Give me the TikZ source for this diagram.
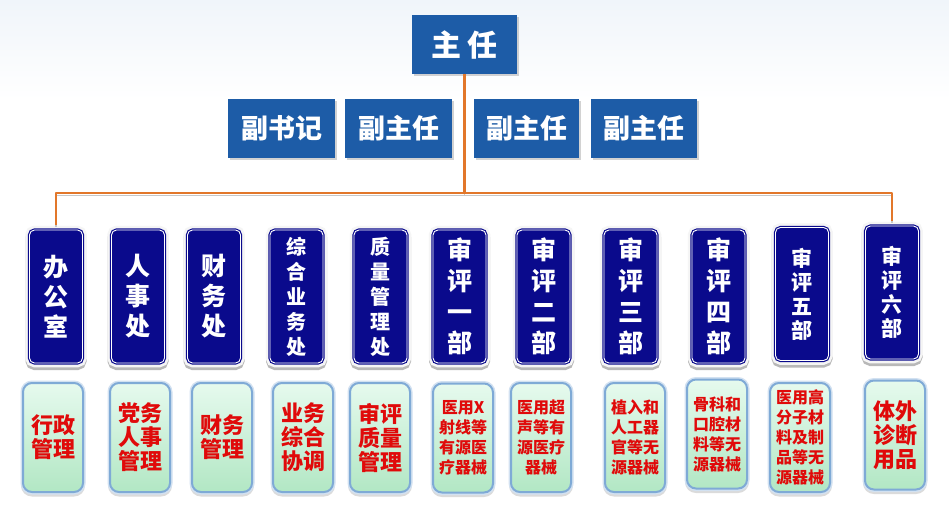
\documentclass[tikz,border=0pt]{standalone}
\usepackage{fontspec}
\newfontfamily\cjk{Noto Sans CJK SC}
\usetikzlibrary{shadows}
\definecolor{topblue}{HTML}{1D5CA7}
\definecolor{navy}{HTML}{0A0A8C}
\definecolor{lineor}{HTML}{E2772A}
\definecolor{mintA}{HTML}{E6FAEE}
\definecolor{mintB}{HTML}{B2E7C4}
\definecolor{edgeblue}{HTML}{7FAAD6}
\definecolor{redtxt}{HTML}{E00A0A}
\definecolor{skyA}{HTML}{F0F5FA}
\tikzset{
  topbox/.style={fill=topblue, text=white, inner sep=0,
    font=\cjk\bfseries\fontsize{27}{27}\selectfont,
    minimum width=107, minimum height=59,
    drop shadow={shadow xshift=2pt, shadow yshift=-2pt, opacity=.35}},
  deptbox/.style={fill=navy, draw=white, line width=0.9pt, rounded corners=5pt,
    minimum width=53, minimum height=133, inner sep=0, text=white, align=center,
    font=\cjk\bfseries\fontsize{25}{30}\selectfont,
    preaction={draw=black!28, line width=8pt, transform canvas={yshift=-3pt}},
    preaction={draw=white!96!black, line width=8.5pt},
    preaction={draw=navy, line width=3.2pt}},
  deptsmall/.style={deptbox, font=\cjk\bfseries\fontsize{20}{25}\selectfont},
  deptmid/.style={deptbox, font=\cjk\bfseries\fontsize{21}{24}\selectfont},
  subbox/.style={rounded corners=9pt, top color=mintA, bottom color=mintB,
    draw=edgeblue, line width=2pt, minimum width=60, minimum height=109,
    inner sep=0, text=redtxt, align=center,
    font=\cjk\bfseries\fontsize{22}{24}\selectfont,
    preaction={draw=black!14, line width=4pt, transform canvas={yshift=-2.5pt}},
    preaction={draw=edgeblue!35, line width=5pt}},
  subsmall/.style={subbox, font=\cjk\bfseries\fontsize{16}{20}\selectfont},
  conn/.style={draw=lineor, line width=2.4pt, line join=round,
    preaction={draw=black!22, line width=1.4pt, transform canvas={yshift=-2.4pt}}}
}
\begin{document}
\begin{tikzpicture}[x=1pt,y=-1pt]
\useasboundingbox (0,0) rectangle (949,519);
\fill[white] (0,0) rectangle (949,519);
\fill[top color=skyA, bottom color=white] (0,0) rectangle (949,100);

% top
\node[topbox, font=\cjk\bfseries\fontsize{30}{30}\selectfont, minimum width=105] (zr) at (464.5,44.5) {主\hspace{6pt}任};
\node[topbox] (v1) at (281.5,128.5) {副书记};
\node[topbox] (v2) at (398.5,128.5) {副主任};
\node[topbox, minimum width=105] (v3) at (526.5,128.5) {副主任};
\node[topbox, minimum width=106] (v4) at (644,128.5) {副主任};

% departments
\node[deptbox] (d1) at (56,296.5) {办\\公\\室};
\node[deptbox] (d2) at (138,296.5) {人\\事\\处};
\node[deptbox] (d3) at (214,296.5) {财\\务\\处};
\node[deptsmall] (d4) at (296.5,296.5) {综\\合\\业\\务\\处};
\node[deptsmall] (d5) at (380.5,296.5) {质\\量\\管\\理\\处};
\node[deptbox, font=\cjk\bfseries\fontsize{25}{31}\selectfont] (d6) at (459.5,296.5) {审\\评\\一\\部};
\node[deptbox, font=\cjk\bfseries\fontsize{25}{31}\selectfont] (d7) at (543.5,296.5) {审\\评\\二\\部};
\node[deptbox, font=\cjk\bfseries\fontsize{25}{31}\selectfont] (d8) at (630.5,296.5) {审\\评\\三\\部};
\node[deptbox, font=\cjk\bfseries\fontsize{25}{31}\selectfont] (d9) at (718.5,296.5) {审\\评\\四\\部};
\node[deptmid] (d10) at (802,294) {审\\评\\五\\部};
\node[deptmid] (d11) at (892,292.5) {审\\评\\六\\部};

% functions
\node[subbox] (s1) at (53,437.5) {行政\\管理};
\node[subbox] (s2) at (140,437.5) {党务\\人事\\管理};
\node[subbox] (s3) at (222,437.5) {财务\\管理};
\node[subbox] (s4) at (303,437.5) {业务\\综合\\协调};
\node[subbox] (s5) at (380,437.5) {审评\\质量\\管理};
\node[subsmall] (s6) at (463,438) {医用X\\射线等\\有源医\\疗器械};
\node[subsmall] (s7) at (541,437.5) {医用超\\声等有\\源医疗\\器械};
\node[subsmall] (s8) at (635,437.5) {植入和\\人工器\\官等无\\源器械};
\node[subsmall] (s9) at (717,434) {骨科和\\口腔材\\料等无\\源器械};
\node[subsmall] (s10) at (800,437.5) {医用高\\分子材\\料及制\\品等无\\源器械};
\node[subbox] (s11) at (895,435) {体外\\诊断\\用品};

% connectors
\coordinate (hub) at (zr.south |- 0,193);
\draw[conn] (zr.south) -- (hub);
\draw[conn, shorten <=5pt, shorten >=5pt] (d1.north) |- (hub) -| (d11.north);
\end{tikzpicture}
\end{document}
